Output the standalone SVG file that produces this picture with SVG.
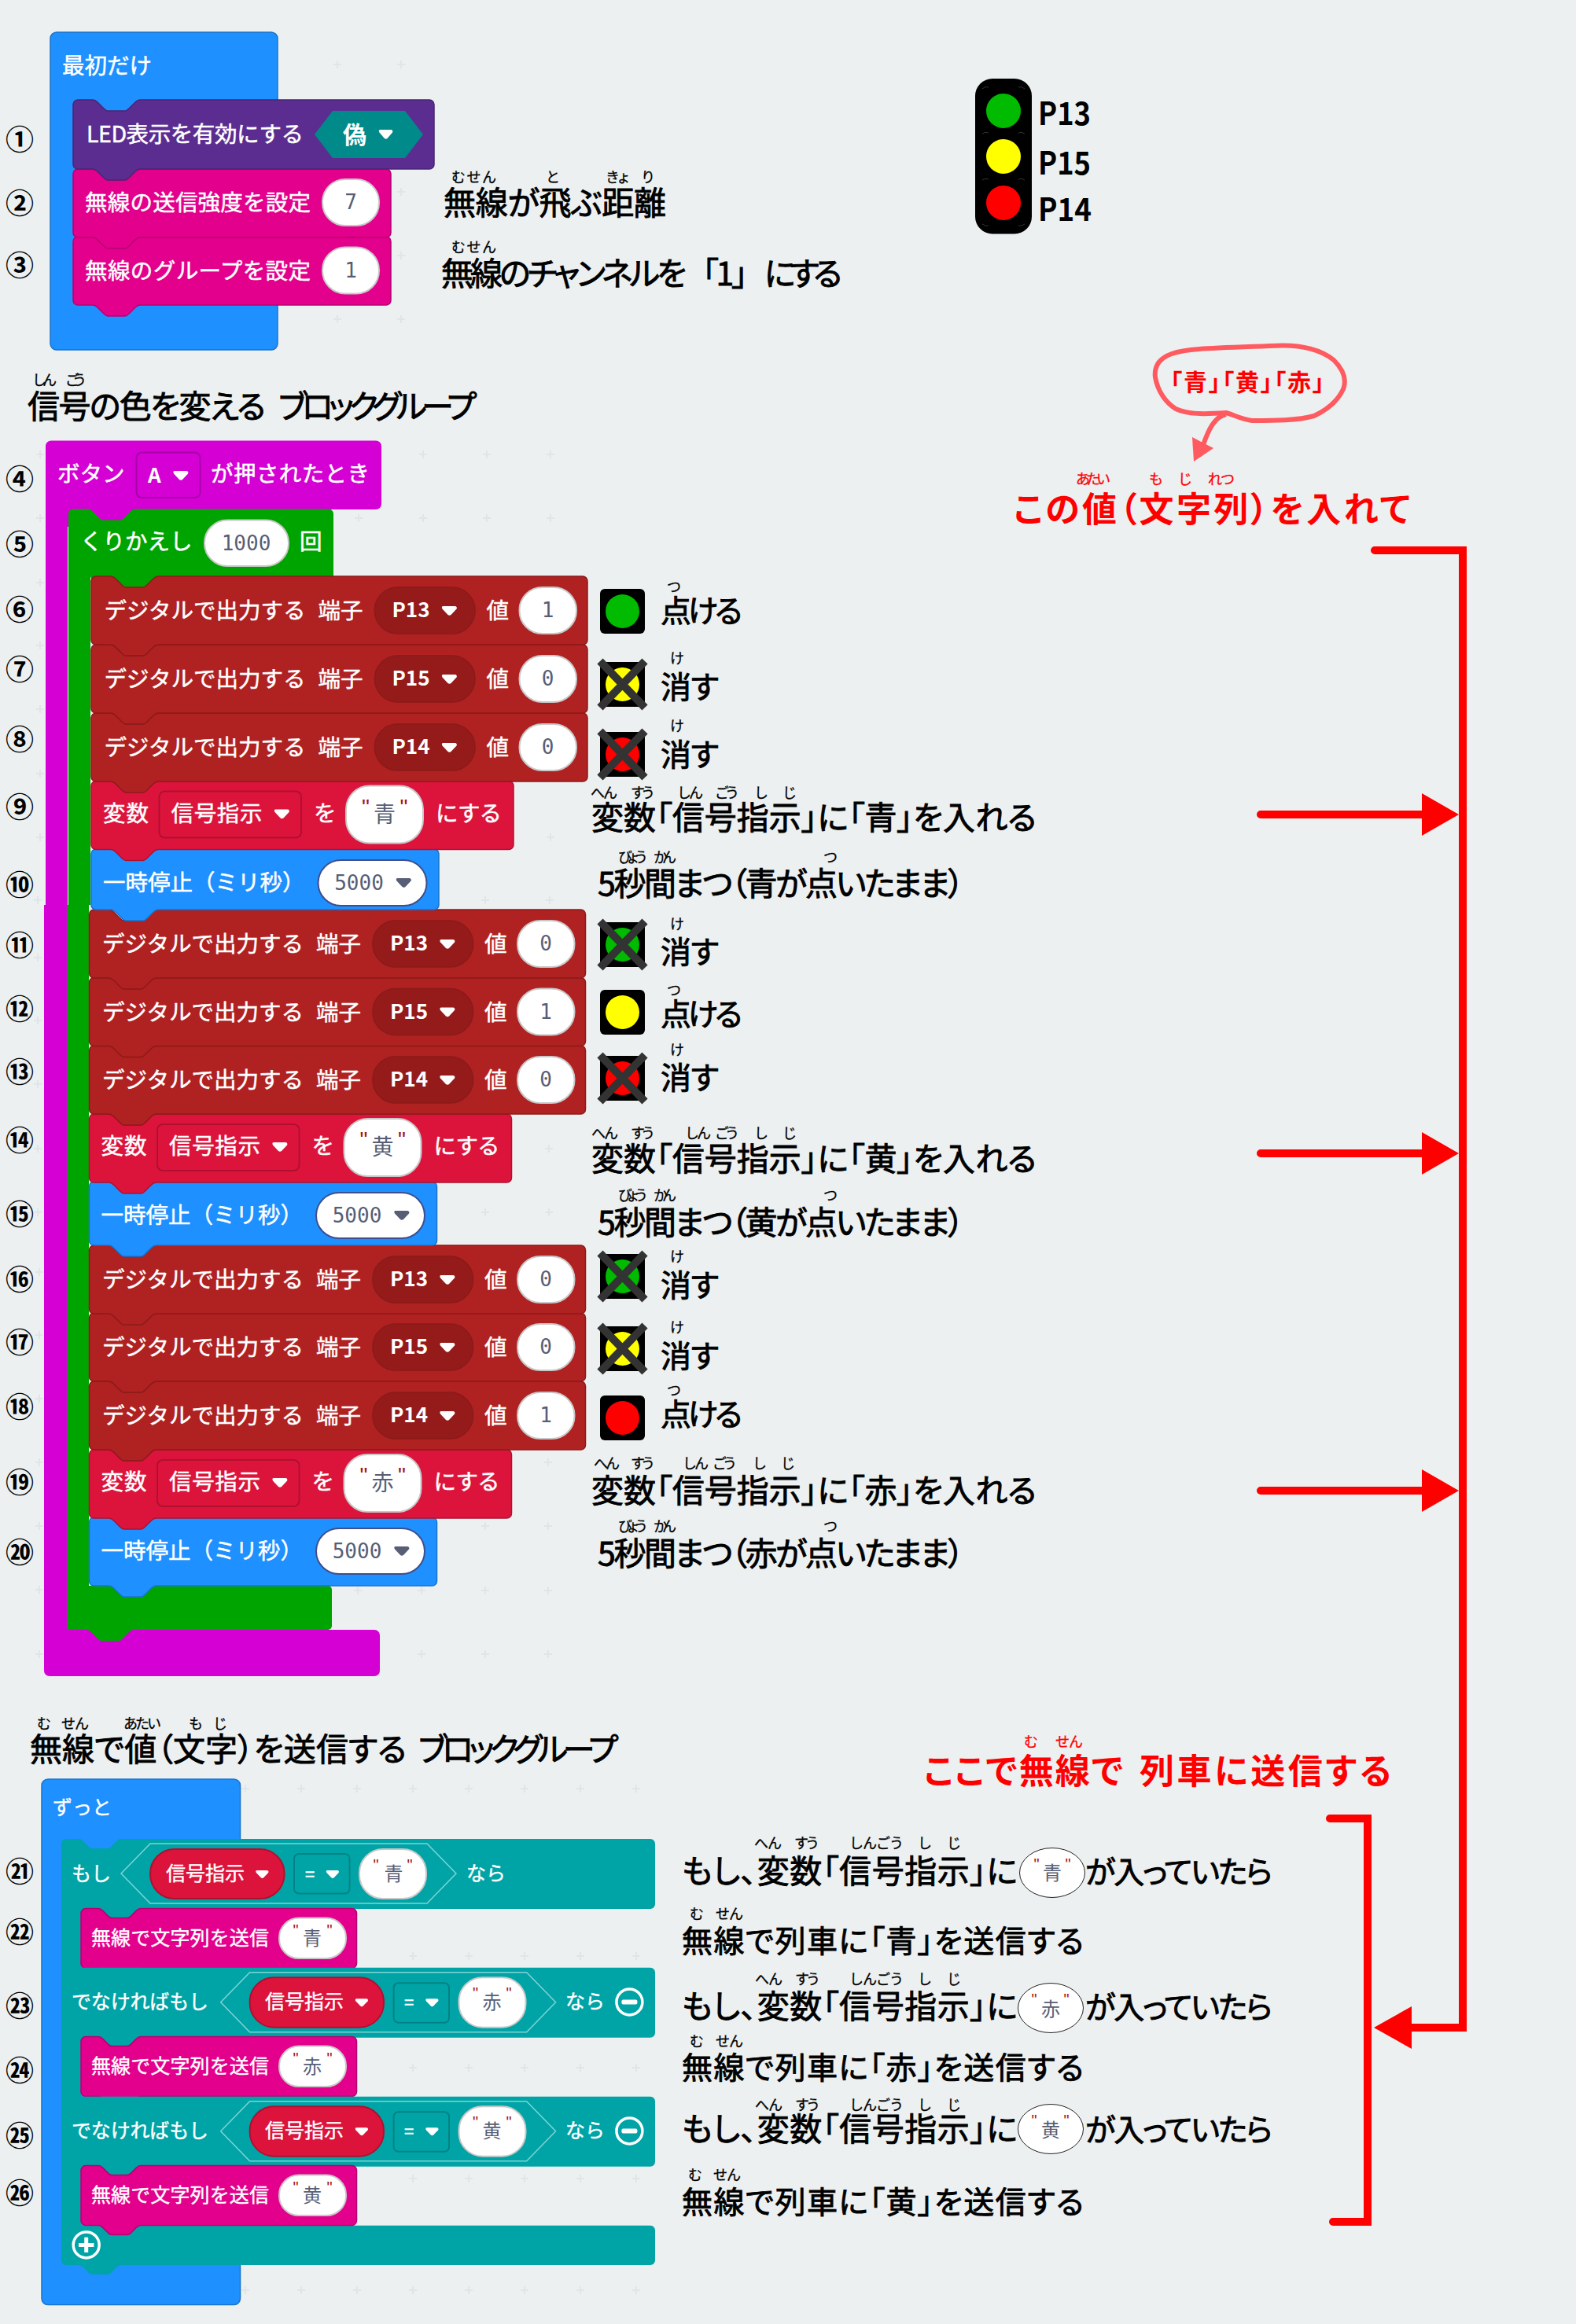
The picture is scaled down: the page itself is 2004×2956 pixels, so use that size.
<svg xmlns="http://www.w3.org/2000/svg" width="2004" height="2956" viewBox="0 0 2004 2956">
<style>
text{font-family:"Noto Sans CJK JP","Noto Sans",sans-serif}
.w{fill:#fff;font-size:28.5px;stroke:#fff;stroke-width:.5}
.w25{fill:#fff;font-size:25px;stroke:#fff;stroke-width:.4}
.pn{fill:#fff;font-size:26px;font-weight:700}
.num{fill:#575E75;font-size:26px;font-family:"DejaVu Sans Mono",monospace;text-anchor:middle}
.s{fill:#575E75;font-size:28px;text-anchor:middle}
.s24{fill:#575E75;font-size:24px;text-anchor:middle}
.q{fill:#A31515;font-size:28px;font-family:"Liberation Sans",sans-serif;text-anchor:middle}
.q20{fill:#A31515;font-size:20px;font-family:"Liberation Sans",sans-serif;text-anchor:middle}
.lb{fill:#000;font-size:41px;stroke:#000;stroke-width:.9;font-feature-settings:"palt"}
.lb38{fill:#000;font-size:39px;stroke:#000;stroke-width:.9;font-feature-settings:"palt"}
.rb{fill:#000;font-size:18px;stroke:#000;stroke-width:.3}
.rr{fill:#f00;font-size:18px;stroke:#f00;stroke-width:.3}
.red{fill:#f00;font-size:44px;font-weight:700;font-feature-settings:"palt"}
.n{fill:#000;font-size:36px;font-weight:700;text-anchor:middle}
.pin{fill:#000;font-size:40px;font-weight:700}
.c-red{fill:#B02121;stroke:#8D1A1A;stroke-width:1.5}
.c-var{fill:#DC143C;stroke:#B01030;stroke-width:1.5}
.c-blue{fill:#1E90FF;stroke:#1873CC;stroke-width:1.5}
.c-pink{fill:#E3008C;stroke:#B6006F;stroke-width:1.5}
.c-led{fill:#5C2D91;stroke:#4A2474;stroke-width:1.5}
.c-teal{fill:#00A4A6}
.c-mag{fill:#D400D4}
.c-grn{fill:#00A400}
.p{fill:#fff;stroke:#C8C8C8;stroke-width:2}
.pw{fill:#fff;stroke:#3F4E8C;stroke-width:2}
.dk{fill:#951B1B;stroke:#8A1A1A;stroke-width:1.5}
.dd{fill:#DC143C;stroke:#B01030;stroke-width:2}
.tw{fill:#fff}
.td{fill:#575E75}
.eq{fill:#00A4A6;stroke:#008385;stroke-width:2}
.hx{fill:#00A4A6;stroke:#7FD3D4;stroke-width:1.5}
.arrow{fill:none;stroke:#f00;stroke-width:10;stroke-linecap:round}
.ring{fill:none;stroke:#fff;stroke-width:3.5}
</style>
<defs>
<path id="bk-red" d="M0 6a6 6 0 0 1 6-6h19c3 0 4 1 6 3l8 8c2 2 3 3 5 3h22c2 0 3-1 5-3l8-8c2-2 3-3 6-3H625a6 6 0 0 1 6 6V81a6 6 0 0 1-6 6H85c-3 0-4 1-6 3l-8 8c-2 2-3 3-5 3H44c-2 0-3-1-5-3l-8-8c-2-2-3-3-6-3H6a6 6 0 0 1-6-6Z"/>
<path id="bk-var" d="M0 6a6 6 0 0 1 6-6h19c3 0 4 1 6 3l8 8c2 2 3 3 5 3h22c2 0 3-1 5-3l8-8c2-2 3-3 6-3H531a6 6 0 0 1 6 6V81a6 6 0 0 1-6 6H85c-3 0-4 1-6 3l-8 8c-2 2-3 3-5 3H44c-2 0-3-1-5-3l-8-8c-2-2-3-3-6-3H6a6 6 0 0 1-6-6Z"/>
<path id="bk-w87" d="M0 6a6 6 0 0 1 6-6h19c3 0 4 1 6 3l8 8c2 2 3 3 5 3h22c2 0 3-1 5-3l8-8c2-2 3-3 6-3H436a6 6 0 0 1 6 6V81a6 6 0 0 1-6 6H85c-3 0-4 1-6 3l-8 8c-2 2-3 3-5 3H44c-2 0-3-1-5-3l-8-8c-2-2-3-3-6-3H6a6 6 0 0 1-6-6Z"/>
<path id="bk-w77" d="M0 6a6 6 0 0 1 6-6h19c3 0 4 1 6 3l8 8c2 2 3 3 5 3h22c2 0 3-1 5-3l8-8c2-2 3-3 6-3H436a6 6 0 0 1 6 6V71a6 6 0 0 1-6 6H85c-3 0-4 1-6 3l-8 8c-2 2-3 3-5 3H44c-2 0-3-1-5-3l-8-8c-2-2-3-3-6-3H6a6 6 0 0 1-6-6Z"/>
<path id="bk-w81" d="M0 6a6 6 0 0 1 6-6h19c3 0 4 1 6 3l8 8c2 2 3 3 5 3h22c2 0 3-1 5-3l8-8c2-2 3-3 6-3H436a6 6 0 0 1 6 6V75a6 6 0 0 1-6 6H85c-3 0-4 1-6 3l-8 8c-2 2-3 3-5 3H44c-2 0-3-1-5-3l-8-8c-2-2-3-3-6-3H6a6 6 0 0 1-6-6Z"/>
<path id="bk-led" d="M0 6a6 6 0 0 1 6-6h19c3 0 4 1 6 3l8 8c2 2 3 3 5 3h22c2 0 3-1 5-3l8-8c2-2 3-3 6-3H453a6 6 0 0 1 6 6V82a6 6 0 0 1-6 6H85c-3 0-4 1-6 3l-8 8c-2 2-3 3-5 3H44c-2 0-3-1-5-3l-8-8c-2-2-3-3-6-3H6a6 6 0 0 1-6-6Z"/>
<path id="bk-radio" d="M0 6a6 6 0 0 1 6-6h19c3 0 4 1 6 3l8 8c2 2 3 3 5 3h22c2 0 3-1 5-3l8-8c2-2 3-3 6-3H398a6 6 0 0 1 6 6V81a6 6 0 0 1-6 6H85c-3 0-4 1-6 3l-8 8c-2 2-3 3-5 3H44c-2 0-3-1-5-3l-8-8c-2-2-3-3-6-3H6a6 6 0 0 1-6-6Z"/>
<path id="bk-loop" d="M0 6a6 6 0 0 1 6-6h19c3 0 4 1 6 3l8 8c2 2 3 3 5 3h22c2 0 3-1 5-3l8-8c2-2 3-3 6-3H331a6 6 0 0 1 6 6V87H0Z"/>
<path id="bk-send" d="M0 6a6 6 0 0 1 6-6h16c3 0 4 1 6 3l7 7c2 2 3 2 5 2h18c2 0 3 0 5-2l7-7c2-2 3-3 6-3H344.500a6 6 0 0 1 6 6V70a6 6 0 0 1-6 6H76c-3 0-4 1-6 3l-7 7c-2 2-3 2-5 2H40c-2 0-3 0-5-2l-7-7c-2-2-3-3-6-3H6a6 6 0 0 1-6-6Z"/>
<path id="bk-if" d="M0 6a6 6 0 0 1 6-6h16c3 0 4 1 6 3l7 7c2 2 3 2 5 2h18c2 0 3 0 5-2l7-7c2-2 3-3 6-3H749a6 6 0 0 1 6 6V83a6 6 0 0 1-6 6H0Z"/>
<path id="tab-l" d="M25-1H85l-6 4-8 8c-2 2-3 3-5 3H44c-2 0-3-1-5-3l-8-8Z"/>
<path id="tab-s" d="M22-1H76l-6 4-7 7c-2 2-3 2-5 2H40c-2 0-3 0-5-2l-7-7Z"/>
<path id="tri" d="M2 0h15c2 0 3 2 2 3.500l-7 7.500c-1 1-3 1-4 0l-7-7.500C0 2 0 0 2 0Z"/>
<path id="hex-if" d="M76 44L113 6H465L502 44L465 82H113Z"/>
<path id="hex-el" d="M202.600 44L239.600 6H591.600L628.600 44L591.600 82H239.600Z"/>
<g id="minus"><circle class="ring" r="16.500"/><rect class="tw" x="-10" y="-3" width="20" height="6" rx="2"/></g>
<g id="cross"><path d="M0-1L57 58M57-1L0 58" fill="none" stroke="#333" stroke-width="10"/></g>
<g id="hd"><rect width="57" height="57" rx="6" fill="#000"/></g>
</defs>
<rect width="2004" height="2956" fill="#ECF0F1"/>
<path id="grid" fill="none" stroke="#DFE5E8" stroke-width="2" d="M424 82h10m-5-5v10M505 82h10m-5-5v10M505 244h10m-5-5v10M505 325h10m-5-5v10M424 406h10m-5-5v10M505 406h10m-5-5v10M533 578h10m-5-5v10M614 578h10m-5-5v10M695 578h10m-5-5v10M451 659h10m-5-5v10M533 659h10m-5-5v10M614 659h10m-5-5v10M695 659h10m-5-5v10M46 578h10m-5-5v10M46 659h10m-5-5v10M46 741h10m-5-5v10M46 821h10m-5-5v10M46 902h10m-5-5v10M46 984h10m-5-5v10M46 1065h10m-5-5v10M695 1065h10m-5-5v10M43 1145h10m-5-5v10M612 1145h10m-5-5v10M694 1145h10m-5-5v10M43 1218h10m-5-5v10M43 1298h10m-5-5v10M43 1379h10m-5-5v10M43 1461h10m-5-5v10M43 1542h10m-5-5v10M612 1542h10m-5-5v10M693 1542h10m-5-5v10M693 1461h10m-5-5v10M45 1618h10m-5-5v10M45 1698h10m-5-5v10M45 1779h10m-5-5v10M45 1860h10m-5-5v10M45 1941h10m-5-5v10M45 2022h10m-5-5v10M45 2104h10m-5-5v10M692 1860h10m-5-5v10M612 1941h10m-5-5v10M692 1941h10m-5-5v10M450 2023h10m-5-5v10M531 2023h10m-5-5v10M612 2023h10m-5-5v10M692 2023h10m-5-5v10M531 2104h10m-5-5v10M612 2104h10m-5-5v10M692 2104h10m-5-5v10M307 2275h10m-5-5v10M378 2275h10m-5-5v10M449 2275h10m-5-5v10M520 2275h10m-5-5v10M591 2275h10m-5-5v10M662 2275h10m-5-5v10M733 2275h10m-5-5v10M804 2275h10m-5-5v10M520 2488h10m-5-5v10M591 2488h10m-5-5v10M662 2488h10m-5-5v10M733 2488h10m-5-5v10M804 2488h10m-5-5v10M520 2630h10m-5-5v10M591 2630h10m-5-5v10M662 2630h10m-5-5v10M733 2630h10m-5-5v10M804 2630h10m-5-5v10M520 2771h10m-5-5v10M591 2771h10m-5-5v10M662 2771h10m-5-5v10M733 2771h10m-5-5v10M804 2771h10m-5-5v10M307 2913h10m-5-5v10M378 2913h10m-5-5v10M449 2913h10m-5-5v10M520 2913h10m-5-5v10M591 2913h10m-5-5v10M662 2913h10m-5-5v10M733 2913h10m-5-5v10M804 2913h10m-5-5v10"/>

<!-- group 1 -->
<g id="start-block"><rect class="c-blue" x="64" y="41" width="289" height="404" rx="8"/><text class="w" x="79" y="93.500">最初だけ</text></g>
<g id="radio-group" transform="translate(93 301)"><use href="#bk-radio" class="c-pink"/><text class="w" x="15" y="54" textLength="287">無線のグループを設定</text><rect class="p" x="317" y="13.500" width="72" height="59" rx="29"/><text class="num" x="353" y="52">1</text></g>
<g id="radio-power" transform="translate(93 215)"><use href="#bk-radio" class="c-pink"/><text class="w" x="15" y="53" textLength="287">無線の送信強度を設定</text><rect class="p" x="317" y="13" width="72" height="59" rx="29"/><text class="num" x="353" y="51">7</text></g>
<g id="led-enable" transform="translate(93 127)"><use href="#bk-led" class="c-led"/><text class="w" x="17" y="54" textLength="276">LED表示を有効にする</text><path d="M307 44L330 14H422L445 44L422 74H330Z" fill="#008A8A"/><text class="pn" x="343" y="55" style="font-size:30px">偽</text><use href="#tri" class="tw" transform="translate(388.500 38) scale(.92 1)"/></g>

<!-- group 2 containers -->
<g id="hat-button">
<rect class="c-mag" x="58" y="560.500" width="427" height="87.500" rx="7"/><rect class="c-mag" x="58" y="640" width="118" height="30"/><rect class="c-mag" x="58" y="640" width="28" height="511"/><rect class="c-mag" x="56" y="1151" width="29" height="930"/><rect class="c-mag" x="56" y="2073" width="427" height="59" rx="7"/>
<text class="w" x="73" y="612.500">ボタン</text><rect x="173.500" y="575.500" width="81" height="57.500" rx="7" fill="#D400D4" stroke="#A800A8" stroke-width="2"/><text class="pn" x="188" y="614">A</text><use href="#tri" class="tw" transform="translate(220 599)"/><text class="w" x="268" y="612.500" textLength="202">が押されたとき</text>
</g>
<g id="loop">
<use href="#bk-loop" class="c-grn" transform="translate(87 647.500)"/><rect class="c-grn" x="87" y="730" width="28" height="421"/><rect class="c-grn" x="85" y="1151" width="28" height="880"/><rect class="c-grn" x="116" y="728" width="90" height="22"/><rect class="c-grn" x="85" y="2017" width="337" height="56" rx="5"/><use href="#tab-l" class="c-grn" transform="translate(85 2073)"/><rect class="c-grn" x="85" y="2060" width="20" height="13"/>
<text class="w" x="102" y="698.500">くりかえし</text><rect class="p" x="260" y="661.500" width="107" height="58.500" rx="29"/><text class="num" x="313" y="700">1000</text><text class="w" x="381" y="699">回</text>
</g>
<!-- lower stack (bottom to top) -->
<g id="step-20" transform="translate(113.500 1930)"><use href="#bk-w87" class="c-blue"/><text class="w" x="15" y="53">一時停止（ミリ秒）</text><rect class="pw" x="288.500" y="14" width="138" height="58" rx="29"/><text class="num" x="340.500" y="52">5000</text><use href="#tri" class="td" transform="translate(387.500 37)"/></g>
<g id="step-19" transform="translate(113.500 1844)"><use href="#bk-var" class="c-var"/><text class="w" x="15" y="51" textLength="58">変数</text><rect class="dd" x="86.500" y="13" width="180.500" height="59" rx="7"/><text class="w" x="101.500" y="51" textLength="116">信号指示</text><use href="#tri" class="tw" transform="translate(232.500 36)"/><text class="w" x="283" y="51">を</text><rect class="p" x="324" y="6" width="98" height="73" rx="30"/><text class="s" x="373" y="52">赤</text><text class="q" x="349" y="42">"</text><text class="q" x="397.500" y="42">"</text><text class="w" x="438" y="51" textLength="84">にする</text></g>
<g id="step-18" transform="translate(113.500 1757)"><use href="#bk-red" class="c-red"/><text class="w" x="16.500" y="54" textLength="256">デジタルで出力する</text><text class="w" x="288.500" y="54">端子</text><rect class="dk" x="360.500" y="14" width="127.500" height="59" rx="29"/><text class="pn" x="382.500" y="52">P14</text><use href="#tri" class="tw" transform="translate(445.500 38)"/><text class="w" x="502.500" y="54">値</text><rect class="p" x="544.500" y="14" width="72.500" height="59" rx="29"/><text class="num" x="580.500" y="52">1</text></g>
<g id="step-17" transform="translate(113.500 1670)"><use href="#bk-red" class="c-red"/><text class="w" x="16.500" y="54" textLength="256">デジタルで出力する</text><text class="w" x="288.500" y="54">端子</text><rect class="dk" x="360.500" y="14" width="127.500" height="59" rx="29"/><text class="pn" x="382.500" y="52">P15</text><use href="#tri" class="tw" transform="translate(445.500 38)"/><text class="w" x="502.500" y="54">値</text><rect class="p" x="544.500" y="14" width="72.500" height="59" rx="29"/><text class="num" x="580.500" y="52">0</text></g>
<g id="step-16" transform="translate(113.500 1584)"><use href="#bk-red" class="c-red"/><text class="w" x="16.500" y="54" textLength="256">デジタルで出力する</text><text class="w" x="288.500" y="54">端子</text><rect class="dk" x="360.500" y="14" width="127.500" height="59" rx="29"/><text class="pn" x="382.500" y="52">P13</text><use href="#tri" class="tw" transform="translate(445.500 38)"/><text class="w" x="502.500" y="54">値</text><rect class="p" x="544.500" y="14" width="72.500" height="59" rx="29"/><text class="num" x="580.500" y="52">0</text></g>
<g id="step-15" transform="translate(113.500 1503)"><use href="#bk-w81" class="c-blue"/><text class="w" x="15" y="53">一時停止（ミリ秒）</text><rect class="pw" x="288.500" y="14" width="138" height="58" rx="29"/><text class="num" x="340.500" y="52">5000</text><use href="#tri" class="td" transform="translate(387.500 37)"/></g>
<g id="step-14" transform="translate(113.500 1417)"><use href="#bk-var" class="c-var"/><text class="w" x="15" y="51" textLength="58">変数</text><rect class="dd" x="86.500" y="13" width="180.500" height="59" rx="7"/><text class="w" x="101.500" y="51" textLength="116">信号指示</text><use href="#tri" class="tw" transform="translate(232.500 36)"/><text class="w" x="283" y="51">を</text><rect class="p" x="324" y="6" width="98" height="73" rx="30"/><text class="s" x="373" y="52">黄</text><text class="q" x="349" y="42">"</text><text class="q" x="397.500" y="42">"</text><text class="w" x="438" y="51" textLength="84">にする</text></g>
<g id="step-13" transform="translate(113.500 1330)"><use href="#bk-red" class="c-red"/><text class="w" x="16.500" y="54" textLength="256">デジタルで出力する</text><text class="w" x="288.500" y="54">端子</text><rect class="dk" x="360.500" y="14" width="127.500" height="59" rx="29"/><text class="pn" x="382.500" y="52">P14</text><use href="#tri" class="tw" transform="translate(445.500 38)"/><text class="w" x="502.500" y="54">値</text><rect class="p" x="544.500" y="14" width="72.500" height="59" rx="29"/><text class="num" x="580.500" y="52">0</text></g>
<g id="step-12" transform="translate(113.500 1243.500)"><use href="#bk-red" class="c-red"/><text class="w" x="16.500" y="54" textLength="256">デジタルで出力する</text><text class="w" x="288.500" y="54">端子</text><rect class="dk" x="360.500" y="14" width="127.500" height="59" rx="29"/><text class="pn" x="382.500" y="52">P15</text><use href="#tri" class="tw" transform="translate(445.500 38)"/><text class="w" x="502.500" y="54">値</text><rect class="p" x="544.500" y="14" width="72.500" height="59" rx="29"/><text class="num" x="580.500" y="52">1</text></g>
<g id="step-11" transform="translate(113.500 1157)"><use href="#bk-red" class="c-red"/><text class="w" x="16.500" y="54" textLength="256">デジタルで出力する</text><text class="w" x="288.500" y="54">端子</text><rect class="dk" x="360.500" y="14" width="127.500" height="59" rx="29"/><text class="pn" x="382.500" y="52">P13</text><use href="#tri" class="tw" transform="translate(445.500 38)"/><text class="w" x="502.500" y="54">値</text><rect class="p" x="544.500" y="14" width="72.500" height="59" rx="29"/><text class="num" x="580.500" y="52">0</text></g>
<g id="step-10" transform="translate(116 1080)"><use href="#bk-w77" class="c-blue"/><text class="w" x="15" y="53">一時停止（ミリ秒）</text><rect class="pw" x="288.500" y="14" width="138" height="58" rx="29"/><text class="num" x="340.500" y="52">5000</text><use href="#tri" class="td" transform="translate(387.500 37)"/></g>
<g id="step-9" transform="translate(116 993.500)"><use href="#bk-var" class="c-var"/><text class="w" x="15" y="51" textLength="58">変数</text><rect class="dd" x="86.500" y="13" width="180.500" height="59" rx="7"/><text class="w" x="101.500" y="51" textLength="116">信号指示</text><use href="#tri" class="tw" transform="translate(232.500 36)"/><text class="w" x="283" y="51">を</text><rect class="p" x="324" y="6" width="98" height="73" rx="30"/><text class="s" x="373" y="52">青</text><text class="q" x="349" y="42">"</text><text class="q" x="397.500" y="42">"</text><text class="w" x="438" y="51" textLength="84">にする</text></g>
<g id="step-8" transform="translate(116 907)"><use href="#bk-red" class="c-red"/><text class="w" x="16.500" y="54" textLength="256">デジタルで出力する</text><text class="w" x="288.500" y="54">端子</text><rect class="dk" x="360.500" y="14" width="127.500" height="59" rx="29"/><text class="pn" x="382.500" y="52">P14</text><use href="#tri" class="tw" transform="translate(445.500 38)"/><text class="w" x="502.500" y="54">値</text><rect class="p" x="544.500" y="14" width="72.500" height="59" rx="29"/><text class="num" x="580.500" y="52">0</text></g>
<g id="step-7" transform="translate(116 820)"><use href="#bk-red" class="c-red"/><text class="w" x="16.500" y="54" textLength="256">デジタルで出力する</text><text class="w" x="288.500" y="54">端子</text><rect class="dk" x="360.500" y="14" width="127.500" height="59" rx="29"/><text class="pn" x="382.500" y="52">P15</text><use href="#tri" class="tw" transform="translate(445.500 38)"/><text class="w" x="502.500" y="54">値</text><rect class="p" x="544.500" y="14" width="72.500" height="59" rx="29"/><text class="num" x="580.500" y="52">0</text></g>
<g id="step-6" transform="translate(116 733)"><use href="#bk-red" class="c-red"/><text class="w" x="16.500" y="54" textLength="256">デジタルで出力する</text><text class="w" x="288.500" y="54">端子</text><rect class="dk" x="360.500" y="14" width="127.500" height="59" rx="29"/><text class="pn" x="382.500" y="52">P13</text><use href="#tri" class="tw" transform="translate(445.500 38)"/><text class="w" x="502.500" y="54">値</text><rect class="p" x="544.500" y="14" width="72.500" height="59" rx="29"/><text class="num" x="580.500" y="52">1</text></g>

<!-- group 3 -->
<g id="forever"><rect class="c-blue" x="53" y="2263" width="252.500" height="668.500" rx="8"/><text class="w25" x="67" y="2308">ずっと</text></g>
<g id="if-frame"><rect class="c-teal" x="78" y="2400" width="25" height="470"/><rect class="c-teal" x="78" y="2830.700" width="755" height="50.300" rx="6"/><use href="#tab-s" class="c-teal" transform="translate(78 2881)"/><circle class="ring" cx="109.700" cy="2855.400" r="16.500"/><path d="M100 2855.400h19.400M109.700 2845.700v19.400" stroke="#fff" stroke-width="5" fill="none"/></g>
<g id="if-1" transform="translate(78 2339)"><use href="#bk-if" class="c-teal"/><use href="#tab-s" class="c-teal" transform="translate(25 89)"/><text class="w25" x="13" y="53">もし</text><use href="#hex-if" class="hx"/><rect class="dd" x="113" y="13" width="170.600" height="63" rx="31"/><text class="w25" x="133" y="53">信号指示</text><use href="#tri" class="tw" transform="translate(247 40) scale(.85)"/><rect class="eq" x="296" y="19" width="70.500" height="50.500" rx="6"/><text class="w25" x="310" y="53" style="font-size:22px">=</text><use href="#tri" class="tw" transform="translate(336.500 40) scale(.85)"/><rect class="p" x="379" y="13" width="85" height="63" rx="30"/><text class="s24" x="422.600" y="53">青</text><text class="q20" x="400" y="40">"</text><text class="q20" x="443" y="40">"</text><text class="w25" x="515" y="53">なら</text></g>
<g id="send-1" transform="translate(103 2427.600)"><use href="#bk-send" class="c-pink"/><text class="w25" x="13" y="46" textLength="226">無線で文字列を送信</text><rect class="p" x="252" y="12" width="85" height="51.500" rx="25"/><text class="s24" x="294" y="46">青</text><text class="q20" x="273" y="34">"</text><text class="q20" x="316" y="34">"</text></g>
<g id="elif-1" transform="translate(78 2502.700)"><rect class="c-teal" width="755" height="89" rx="6"/><use href="#tab-s" class="c-teal" transform="translate(25 89)"/><text class="w25" x="13" y="52" textLength="174">でなければもし</text><use href="#hex-el" class="hx"/><rect class="dd" x="239.600" y="12.500" width="170.400" height="63.500" rx="31"/><text class="w25" x="259" y="52">信号指示</text><use href="#tri" class="tw" transform="translate(373.500 39.500) scale(.85)"/><rect class="eq" x="422.600" y="19.500" width="70.400" height="50.500" rx="6"/><text class="w25" x="436" y="52" style="font-size:22px">=</text><use href="#tri" class="tw" transform="translate(463 39.500) scale(.85)"/><rect class="p" x="505.500" y="12.500" width="85" height="63.500" rx="30"/><text class="s24" x="547.600" y="52">赤</text><text class="q20" x="526.600" y="39.500">"</text><text class="q20" x="569" y="39.500">"</text><text class="w25" x="641" y="52">なら</text><use href="#minus" transform="translate(722.400 43.700)"/></g>
<g id="send-2" transform="translate(103 2590.600)"><use href="#bk-send" class="c-pink"/><text class="w25" x="13" y="46" textLength="226">無線で文字列を送信</text><rect class="p" x="252" y="12" width="85" height="51.500" rx="25"/><text class="s24" x="294" y="46">赤</text><text class="q20" x="273" y="34">"</text><text class="q20" x="316" y="34">"</text></g>
<g id="elif-2" transform="translate(78 2666.700)"><rect class="c-teal" width="755" height="89" rx="6"/><use href="#tab-s" class="c-teal" transform="translate(25 89)"/><text class="w25" x="13" y="52" textLength="174">でなければもし</text><use href="#hex-el" class="hx"/><rect class="dd" x="239.600" y="12.500" width="170.400" height="63.500" rx="31"/><text class="w25" x="259" y="52">信号指示</text><use href="#tri" class="tw" transform="translate(373.500 39.500) scale(.85)"/><rect class="eq" x="422.600" y="19.500" width="70.400" height="50.500" rx="6"/><text class="w25" x="436" y="52" style="font-size:22px">=</text><use href="#tri" class="tw" transform="translate(463 39.500) scale(.85)"/><rect class="p" x="505.500" y="12.500" width="85" height="63.500" rx="30"/><text class="s24" x="547.600" y="52">黄</text><text class="q20" x="526.600" y="39.500">"</text><text class="q20" x="569" y="39.500">"</text><text class="w25" x="641" y="52">なら</text><use href="#minus" transform="translate(722.400 43.700)"/></g>
<g id="send-3" transform="translate(103 2754.600)"><use href="#bk-send" class="c-pink"/><text class="w25" x="13" y="46" textLength="226">無線で文字列を送信</text><rect class="p" x="252" y="12" width="85" height="51.500" rx="25"/><text class="s24" x="294" y="46">黄</text><text class="q20" x="273" y="34">"</text><text class="q20" x="316" y="34">"</text></g>

<!-- step numbers -->
<g id="numbers">
<text class="n" x="25" y="191">①</text><text class="n" x="25" y="272">②</text><text class="n" x="25" y="351">③</text><text class="n" x="25" y="623">④</text><text class="n" x="25" y="706">⑤</text><text class="n" x="25" y="789">⑥</text><text class="n" x="25" y="865">⑦</text><text class="n" x="25" y="954">⑧</text><text class="n" x="25" y="1040">⑨</text><text class="n" x="25" y="1139">⑩</text><text class="n" x="25" y="1216">⑪</text><text class="n" x="25" y="1297">⑫</text><text class="n" x="25" y="1377">⑬</text><text class="n" x="25" y="1464">⑭</text><text class="n" x="25" y="1558">⑮</text><text class="n" x="25" y="1641">⑯</text><text class="n" x="25" y="1721">⑰</text><text class="n" x="25" y="1803">⑱</text><text class="n" x="25" y="1899">⑲</text><text class="n" x="25" y="1988">⑳</text><text class="n" x="25" y="2394">㉑</text><text class="n" x="25" y="2471">㉒</text><text class="n" x="25" y="2565">㉓</text><text class="n" x="25" y="2647">㉔</text><text class="n" x="25" y="2730">㉕</text><text class="n" x="25" y="2803">㉖</text>
</g>

<!-- traffic light -->
<g id="traffic-light">
<rect x="1240" y="100" width="72" height="197.500" rx="22" fill="#000"/>
<path d="M1249 113q4-4 8-2M1303 113q-4-4-8-2M1249 170q4-3 8-1M1303 170q-4-3-8-1M1249 229q4-3 8-1M1303 229q-4-3-8-1M1249 285q4 3 8 2M1303 285q-4 3-8 2" fill="none" stroke="#333" stroke-width="1"/>
<circle cx="1276" cy="141" r="22" fill="#00BB00"/><circle cx="1276" cy="199" r="22" fill="#FFFF00"/><circle cx="1276" cy="258" r="22" fill="#FF0000"/>
<text class="pin" x="1320" y="159" textLength="67" lengthAdjust="spacingAndGlyphs">P13</text><text class="pin" x="1320" y="222" textLength="67" lengthAdjust="spacingAndGlyphs">P15</text><text class="pin" x="1320" y="281" textLength="68" lengthAdjust="spacingAndGlyphs">P14</text>
</g>

<!-- LED icons -->
<g id="led-6" transform="translate(763 749)"><use href="#hd"/><circle cx="28.500" cy="28.500" r="21.500" fill="#00BB00"/></g>
<g id="led-7" transform="translate(763 842)"><use href="#hd"/><circle cx="28.500" cy="28.500" r="21.500" fill="#FFFF00"/><use href="#cross"/></g>
<g id="led-8" transform="translate(763 931)"><use href="#hd"/><circle cx="28.500" cy="28.500" r="21.500" fill="#FF0000"/><use href="#cross"/></g>
<g id="led-11" transform="translate(763 1173)"><use href="#hd"/><circle cx="28.500" cy="28.500" r="21.500" fill="#00BB00"/><use href="#cross"/></g>
<g id="led-12" transform="translate(763 1259)"><use href="#hd"/><circle cx="28.500" cy="28.500" r="21.500" fill="#FFFF00"/></g>
<g id="led-13" transform="translate(763 1343)"><use href="#hd"/><circle cx="28.500" cy="28.500" r="21.500" fill="#FF0000"/><use href="#cross"/></g>
<g id="led-16" transform="translate(763 1595)"><use href="#hd"/><circle cx="28.500" cy="28.500" r="21.500" fill="#00BB00"/><use href="#cross"/></g>
<g id="led-17" transform="translate(763 1687)"><use href="#hd"/><circle cx="28.500" cy="28.500" r="21.500" fill="#FFFF00"/><use href="#cross"/></g>
<g id="led-18" transform="translate(763 1775)"><use href="#hd"/><circle cx="28.500" cy="28.500" r="21.500" fill="#FF0000"/></g>

<!-- annotations -->
<g id="notes-top">
<text class="lb" x="564" y="273" textLength="283">無線が飛ぶ距離</text>
<text class="rb" x="574" y="232" textLength="57">むせん</text><text class="rb" x="694" y="232">と</text><text class="rb" x="770" y="232" textLength="32">きょ</text><text class="rb" x="815" y="232">り</text>
<text class="lb" x="561" y="363" textLength="312">無線のチャンネルを</text><text class="lb" x="893" y="363" textLength="58">「1」</text><text class="lb" x="972" y="363" textLength="99">にする</text>
<text class="rb" x="574" y="321" textLength="57">むせん</text>
<text class="lb" x="35" y="532" textLength="303">信号の色を変える</text><text class="lb" x="354" y="532" textLength="252">ブロックグループ</text>
<text class="rb" x="41" y="490" textLength="31">しん</text><text class="rb" x="83" y="490" textLength="27">ごう</text>
</g>
<g id="notes-light">
<text class="lb38" x="840" y="791" textLength="104">点ける</text><text class="rb" x="848" y="753">つ</text>
<text class="lb38" x="840" y="888" textLength="74">消す</text><text class="rb" x="852" y="844">け</text>
<text class="lb38" x="840" y="974" textLength="74">消す</text><text class="rb" x="852" y="930">け</text>
<text class="lb38" x="840" y="1225" textLength="74">消す</text><text class="rb" x="852" y="1182">け</text>
<text class="lb38" x="840" y="1304" textLength="104">点ける</text><text class="rb" x="848" y="1266">つ</text>
<text class="lb38" x="840" y="1385" textLength="74">消す</text><text class="rb" x="852" y="1342">け</text>
<text class="lb38" x="840" y="1649" textLength="74">消す</text><text class="rb" x="852" y="1605">け</text>
<text class="lb38" x="840" y="1739" textLength="74">消す</text><text class="rb" x="852" y="1695">け</text>
<text class="lb38" x="840" y="1813" textLength="104">点ける</text><text class="rb" x="848" y="1775">つ</text>
</g>
<g id="notes-var">
<text class="lb" x="752" y="1055" textLength="566">変数「信号指示」に「青」を入れる</text>
<text class="rb" x="751" y="1015" textLength="34">へん</text><text class="rb" x="802" y="1015" textLength="31">すう</text><text class="rb" x="861" y="1015" textLength="33">しん</text><text class="rb" x="909" y="1015" textLength="31">ごう</text><text class="rb" x="959" y="1015">し</text><text class="rb" x="995" y="1015">じ</text>
<text class="lb" x="760" y="1139" textLength="466">5秒間まつ（青が点いたまま）</text>
<text class="rb" x="786" y="1097" textLength="38">びょう</text><text class="rb" x="831" y="1097" textLength="29">かん</text><text class="rb" x="1047" y="1097">つ</text>
<text class="lb" x="752" y="1489" textLength="566">変数「信号指示」に「黄」を入れる</text>
<text class="rb" x="752" y="1448" textLength="34">へん</text><text class="rb" x="802" y="1448" textLength="31">すう</text><text class="rb" x="871" y="1448" textLength="33">しん</text><text class="rb" x="909" y="1448" textLength="31">ごう</text><text class="rb" x="959" y="1448">し</text><text class="rb" x="995" y="1448">じ</text>
<text class="lb" x="760" y="1570" textLength="466">5秒間まつ（黄が点いたまま）</text>
<text class="rb" x="786" y="1527" textLength="38">びょう</text><text class="rb" x="831" y="1527" textLength="29">かん</text><text class="rb" x="1047" y="1527">つ</text>
<text class="lb" x="752" y="1911" textLength="566">変数「信号指示」に「赤」を入れる</text>
<text class="rb" x="755" y="1868" textLength="33">へん</text><text class="rb" x="802" y="1868" textLength="31">すう</text><text class="rb" x="868" y="1868" textLength="33">しん</text><text class="rb" x="906" y="1868" textLength="31">ごう</text><text class="rb" x="957" y="1868">し</text><text class="rb" x="993" y="1868">じ</text>
<text class="lb" x="760" y="1991" textLength="466">5秒間まつ（赤が点いたまま）</text>
<text class="rb" x="786" y="1948" textLength="38">びょう</text><text class="rb" x="831" y="1948" textLength="29">かん</text><text class="rb" x="1047" y="1948">つ</text>
</g>
<g id="notes-title-2">
<text class="lb" x="38" y="2240" textLength="479">無線で値（文字）を送信する</text><text class="lb" x="532" y="2240" textLength="254">ブロックグループ</text>
<text class="rb" x="47" y="2199">む</text><text class="rb" x="78" y="2199" textLength="35">せん</text><text class="rb" x="157" y="2199" textLength="48">あたい</text><text class="rb" x="240" y="2199">も</text><text class="rb" x="271" y="2199">じ</text>
</g>
<g id="notes-if">
<text class="lb" x="867" y="2395" textLength="427">もし、変数「信号指示」に</text><ellipse cx="1338" cy="2382" rx="41.500" ry="31.500" fill="#fff" stroke="#222" stroke-width="1"/><text class="s24" x="1338" y="2391">青</text><text class="q20" x="1318" y="2378">"</text><text class="q20" x="1358" y="2378">"</text><text class="lb38" x="1380" y="2395" textLength="238">が入っていたら</text>
<text class="rb" x="959" y="2351" textLength="35">へん</text><text class="rb" x="1010" y="2351" textLength="32">すう</text><text class="rb" x="1080" y="2351" textLength="69">しんごう</text><text class="rb" x="1167" y="2351">し</text><text class="rb" x="1204" y="2351">じ</text>
<text class="lb38" x="867" y="2483" textLength="511">無線で列車に「青」を送信する</text><text class="rb" x="877" y="2441">む</text><text class="rb" x="910" y="2441" textLength="35">せん</text>
<text class="lb" x="867" y="2567" textLength="427">もし、変数「信号指示」に</text><ellipse cx="1336" cy="2554" rx="41.500" ry="31.500" fill="#fff" stroke="#222" stroke-width="1"/><text class="s24" x="1336" y="2564">赤</text><text class="q20" x="1315" y="2550">"</text><text class="q20" x="1356" y="2550">"</text><text class="lb38" x="1380" y="2567" textLength="238">が入っていたら</text>
<text class="rb" x="960" y="2524" textLength="35">へん</text><text class="rb" x="1011" y="2524" textLength="32">すう</text><text class="rb" x="1080" y="2524" textLength="69">しんごう</text><text class="rb" x="1167" y="2524">し</text><text class="rb" x="1204" y="2524">じ</text>
<text class="lb38" x="867" y="2644" textLength="511">無線で列車に「赤」を送信する</text><text class="rb" x="877" y="2603">む</text><text class="rb" x="910" y="2603" textLength="35">せん</text>
<text class="lb" x="867" y="2723" textLength="427">もし、変数「信号指示」に</text><ellipse cx="1336" cy="2708" rx="41.500" ry="31.500" fill="#fff" stroke="#222" stroke-width="1"/><text class="s24" x="1336" y="2718">黄</text><text class="q20" x="1315" y="2704">"</text><text class="q20" x="1356" y="2704">"</text><text class="lb38" x="1380" y="2723" textLength="238">が入っていたら</text>
<text class="rb" x="960" y="2684" textLength="35">へん</text><text class="rb" x="1011" y="2684" textLength="32">すう</text><text class="rb" x="1080" y="2684" textLength="69">しんごう</text><text class="rb" x="1167" y="2684">し</text><text class="rb" x="1204" y="2684">じ</text>
<text class="lb38" x="867" y="2815" textLength="511">無線で列車に「黄」を送信する</text><text class="rb" x="875" y="2773">む</text><text class="rb" x="907" y="2773" textLength="35">せん</text>
</g>
<g id="notes-red">
<text class="red" x="1289" y="664" textLength="504">この値（文字列）を入れて</text>
<text class="rr" x="1368" y="616" textLength="44">あたい</text><text class="rr" x="1461" y="616">も</text><text class="rr" x="1498" y="616">じ</text><text class="rr" x="1536" y="616" textLength="34">れつ</text>
<text class="red" x="1175" y="2269" textLength="253">ここで無線で</text><text class="red" x="1449" y="2269" textLength="320">列車に送信する</text>
<text class="rr" x="1302" y="2222">む</text><text class="rr" x="1342" y="2222" textLength="35">せん</text>
</g>
<g id="callout">
<path d="M1559 525C1530 527 1510 527 1495 520C1482 512 1472 497 1469 480C1467 464 1476 455 1490 450C1510 443 1540 443 1630 439.500C1655 439 1680 445 1696 458C1708 470 1713 482 1708 495C1702 508 1690 520 1671 529C1650 535 1620 535 1592 535C1578 533 1570 528 1559 525Z" fill="none" stroke="#FF5A5F" stroke-width="6"/>
<path d="M1559 527C1545 530 1537 545 1530 566" fill="none" stroke="#FF5A5F" stroke-width="6"/><path d="M1516 556L1543 570L1518 587Z" fill="#FF5A5F"/>
<text x="1488" y="497" font-size="30" font-weight="700" fill="#f00" style="font-feature-settings:'palt'" textLength="196">「青」「黄」「赤」</text>
</g>
<!-- connectors -->
<g id="connectors">
<path class="arrow" d="M1748 700H1860V2579H1790"/>
<path class="arrow" d="M1603 1036H1820M1603 1467H1820M1603 1896H1820"/>
<path class="arrow" d="M1691 2313H1739V2826H1695"/>
<path d="M1808 1009L1855 1036L1808 1063ZM1808 1440L1855 1467L1808 1494ZM1808 1869L1855 1896L1808 1923ZM1795 2552L1747 2579L1795 2606Z" fill="#f00"/>
</g>
</svg>
